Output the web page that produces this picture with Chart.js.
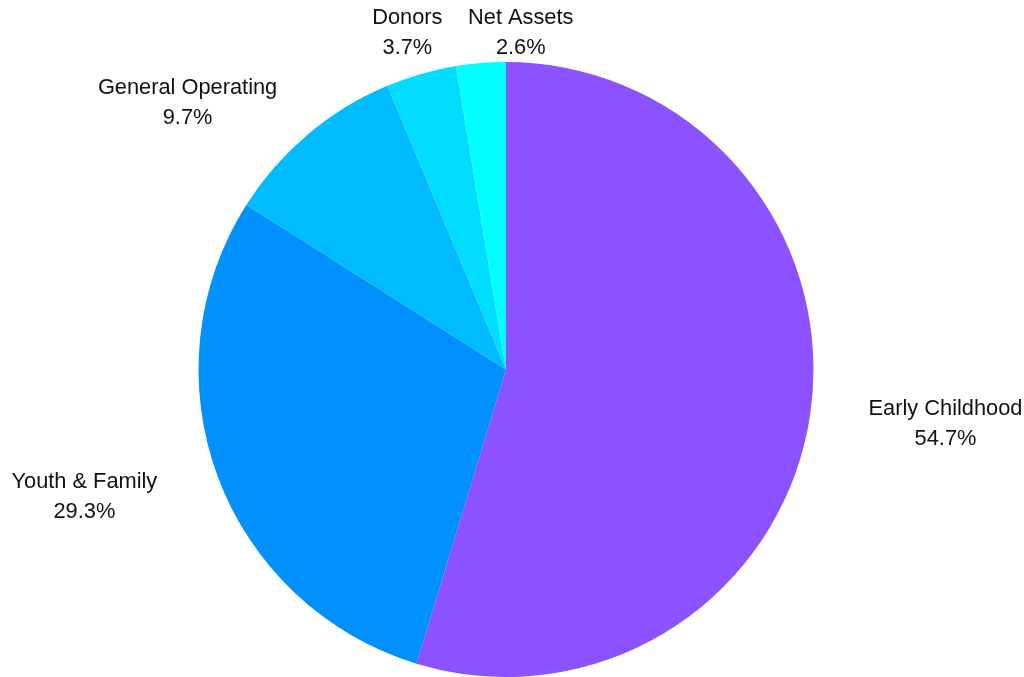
<!DOCTYPE html>
<html>
<head>
<meta charset="utf-8">
<script src="https://cdn.jsdelivr.net/npm/chart.js@4/dist/chart.umd.min.js"></script>
<style>
  html, body { margin: 0; padding: 0; background: #fff; }
  #wrap { width: 1024px; height: 677px; }
</style>
</head>
<body>
<div id="wrap"><canvas id="pieChart"></canvas></div>
<script>
const categories = ["Early Childhood", "Youth & Family", "General Operating", "Donors", "Net Assets"];
const shares = [54.7, 29.3, 9.7, 3.7, 2.6];
const sliceColors = ["#8c52ff", "#0091ff", "#00bbff", "#00ddff", "#00ffff"];
// small hand nudges so labels don't collide (px)
const labelNudge = [[0, 5], [-5, 9], [-32, -7], [24, -10], [51, 2]];

const total = shares.reduce((a, b) => a + b, 0);

// draws "name / pct" labels outside each slice
const outsideLabels = {
  id: "outsideLabels",
  afterDraw(chart) {
    const ctx = chart.ctx;
    const arcs = chart.getDatasetMeta(0).data;
    ctx.save();
    ctx.font = '21.8px "Liberation Sans", Arial, sans-serif';
    ctx.fillStyle = "#111";
    ctx.textAlign = "center";
    ctx.textBaseline = "middle";
    arcs.forEach((arc, i) => {
      const mid = (arc.startAngle + arc.endAngle) / 2;
      const r = arc.outerRadius;
      const x = arc.x + r * 1.445 * Math.cos(mid) + labelNudge[i][0];
      const y = arc.y + r * 1.105 * Math.sin(mid) + labelNudge[i][1];
      const pct = (shares[i] / total * 100).toFixed(1) + "%";
      ctx.fillText(categories[i], x, y - 15);
      ctx.fillText(pct, x, y + 15);
    });
    ctx.restore();
  }
};

const ctx = document.getElementById("pieChart").getContext("2d");
const pieChart = new Chart(ctx, {
  type: "pie",
  data: {
    labels: categories,
    datasets: [
      {
        data: shares,
        backgroundColor: sliceColors,
        borderWidth: 0,
      },
    ],
  },
  options: {
    responsive: true,
    maintainAspectRatio: false,
    animation: false,
    layout: {
      padding: { top: 62, bottom: 0, left: 0, right: 12 },
    },
    plugins: {
      legend: { display: false },
      tooltip: { enabled: false },
    },
  },
  plugins: [outsideLabels],
});
</script>
</body>
</html>
